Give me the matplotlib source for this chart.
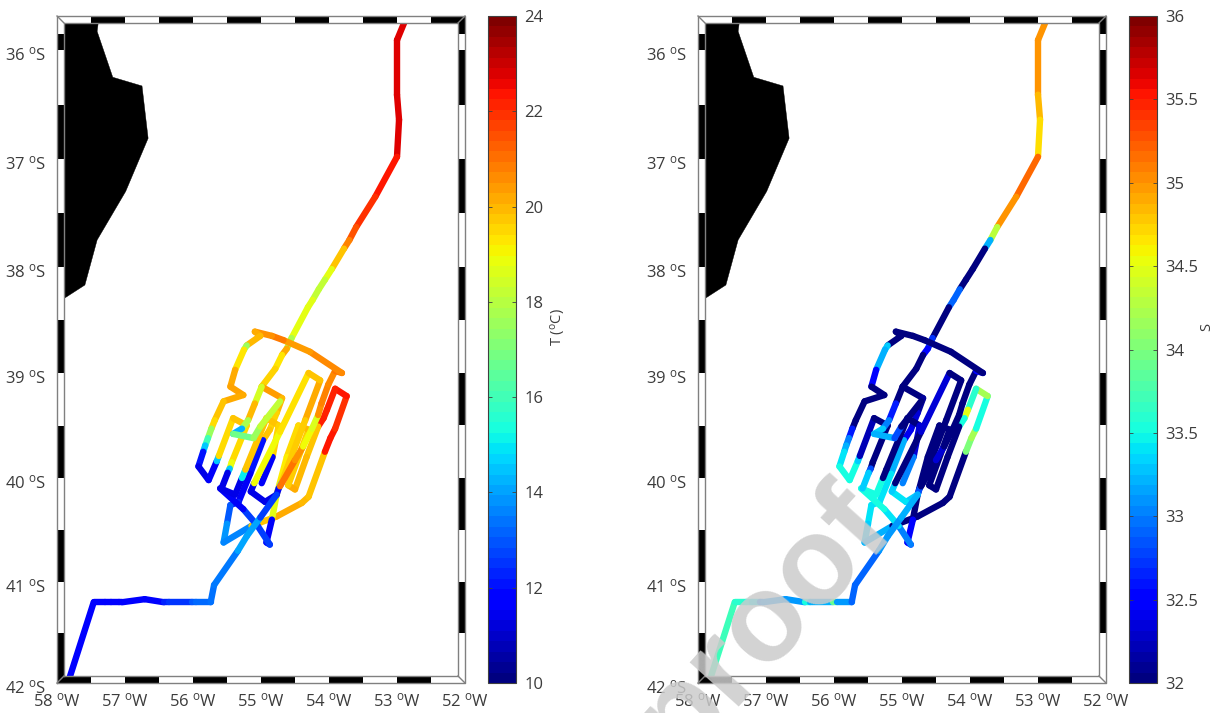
import numpy as np
import matplotlib
matplotlib.use('Agg')
import matplotlib.pyplot as plt
from matplotlib.collections import LineCollection
from matplotlib.patches import Polygon, Rectangle
from matplotlib.cm import ScalarMappable
from matplotlib.colors import Normalize
from matplotlib.transforms import ScaledTranslation

plt.rcParams['font.family'] = ['Open Sans', 'DejaVu Sans']
plt.rcParams['mathtext.fontset'] = 'custom'
plt.rcParams['mathtext.rm'] = 'Open Sans'
plt.rcParams['mathtext.default'] = 'rm'

nan = np.nan
lon_w = [52.85,52.88,53.00,53.00,52.97,53.00,53.32,53.60,53.70,53.78,53.96,54.06,54.15,54.24,54.31,54.55,54.62,54.69,54.79,54.99,54.69,54.77,54.87,54.97,55.16,55.33,55.45,55.50,55.55,
         55.14,54.77,54.40,54.30,54.06,53.98,53.91,53.74,53.91,54.03,54.08,54.16,54.33,54.50,54.60,54.30,54.45,54.62,54.77,54.84,54.92,54.87,55.05,
         55.26,55.60,55.38,55.28,55.23,54.92,54.74,54.83,54.99,nan,
         54.13,54.35,54.70,54.74,54.77,54.94,55.15,55.10,54.72,54.30,54.13,nan,
         54.72,54.50,54.38,54.25,54.16,54.11,54.01,53.91,53.81,54.28,54.67,54.84,55.09,55.01,55.21,55.25,55.38,55.45,55.26,55.55,55.68,55.73,55.78,55.82,55.85,55.92,55.77,55.65,55.62,55.41,55.21,55.43,55.46,55.49,55.58,nan,
         54.99,55.09,55.19,55.28,55.41,55.11,55.01,54.72,nan,
         57.84,57.46,57.30,57.20,57.09,57.04,56.71,56.43,56.35,56.01,55.96,55.74,55.69,55.34,55.21,55.01,54.77]
lat_s = [35.69,35.73,35.91,36.41,36.64,36.98,37.35,37.63,37.75,37.83,38.02,38.12,38.21,38.31,38.38,38.67,38.77,38.83,38.96,39.13,39.24,39.38,39.54,39.64,39.96,40.23,40.26,40.44,40.62,
         40.46,40.37,40.24,40.18,39.75,39.62,39.53,39.22,39.15,39.35,39.43,39.51,39.80,40.11,40.07,39.54,39.50,39.80,40.16,40.40,40.62,40.64,40.46,
         40.30,40.10,40.16,40.00,39.92,39.43,39.50,39.80,40.05,nan,
         39.07,39.45,40.05,40.10,40.16,40.23,40.13,40.05,39.56,39.00,39.07,nan,
         40.08,39.83,39.70,39.53,39.40,39.29,39.11,38.98,39.00,38.80,38.69,38.65,38.61,38.65,38.74,38.78,38.97,39.13,39.21,39.27,39.45,39.53,39.62,39.69,39.75,39.89,40.02,39.84,39.79,39.43,39.50,39.85,39.91,39.95,40.10,nan,
         39.13,39.29,39.45,39.53,39.58,39.62,39.51,39.27,nan,
         42.00,41.20,41.20,41.20,41.20,41.20,41.17,41.20,41.20,41.20,41.20,41.20,41.03,40.70,40.56,40.38,40.16]
temp_c = [22.8,22.8,22.8,22.8,22.8,22.4,22.0,21.5,20.8,19.8,18.8,18.2,18.2,18.7,18.8,17.8,20.2,19.3,19.6,20.4,20.0,19.6,19.8,12.0,11.5,12.2,13.0,13.8,13.6,
          19.8,20.2,20.0,19.8,22.4,22.4,22.0,22.4,22.2,22.2,22.3,19.8,20.0,20.2,19.7,20.0,19.5,19.2,18.8,11.5,12.0,12.6,12.6,
          11.5,11.3,11.3,15.0,19.8,19.8,19.6,11.5,11.5,nan,
          20.2,19.7,15.0,11.8,11.3,11.3,11.3,19.0,19.4,19.8,19.8,nan,
          21.0,20.6,19.0,18.6,20.6,20.8,20.7,21.0,20.7,20.4,20.9,20.6,20.2,20.0,17.5,19.3,20.2,20.3,20.2,19.8,19.5,17.5,16.0,14.5,12.0,11.3,11.5,14.5,19.5,19.8,19.5,18.9,14.5,11.3,11.3,nan,
          18.5,20.0,17.8,14.2,16.8,17.5,18.2,18.2,nan,
          11.6,11.6,11.6,11.6,11.6,11.6,11.8,12.2,12.5,13.0,13.2,13.3,13.4,14.0,14.0,12.6,12.6]
sal_psu = [33.9,35.0,35.0,34.85,34.7,35.2,35.0,34.3,33.2,32.0,32.0,32.0,32.9,32.9,32.0,32.7,32.5,32.0,32.0,32.0,32.1,32.3,32.4,33.2,33.4,33.4,33.4,33.3,33.2,
           32.0,32.0,32.0,32.0,34.0,34.2,33.5,34.2,33.6,34.5,33.5,32.0,32.0,32.0,32.0,32.0,32.0,32.0,32.0,32.5,32.5,33.0,33.4,
           33.5,33.5,33.5,32.0,32.0,32.0,32.3,33.0,33.0,nan,
           32.0,32.0,32.0,32.8,33.3,33.4,33.3,32.0,32.3,32.0,32.0,nan,
           32.0,32.3,32.0,32.0,32.0,32.0,32.0,32.5,32.0,32.0,32.0,32.0,32.0,32.0,33.3,33.2,32.5,32.0,32.0,32.0,32.0,32.6,33.0,33.2,33.4,33.5,33.5,33.3,32.2,32.0,32.0,32.0,32.8,33.3,33.3,nan,
           32.0,32.6,33.0,33.3,33.2,32.8,32.0,32.0,nan,
           33.7,33.6,33.5,33.4,33.0,33.1,33.1,33.5,33.2,33.9,33.1,32.9,32.9,33.1,33.1,33.2,33.2]

land_lon = [58.00,57.38,57.41,57.18,56.75,56.66,56.99,57.41,57.59,57.88,58.00]
land_lat = [35.69,35.69,35.83,36.25,36.33,36.81,37.30,37.75,38.17,38.29,38.34]

lon_ticks = [58,57,56,55,54,53,52]
lat_ticks = [36,37,38,39,40,41,42]
lat_edges = [35.69,35.85,36,36.5,37,37.5,38,38.5,39,39.5,40,40.5,41,41.5,42]
scale_lat = [35.69,36,37,38,39,40,41,42]
scale_pos = [16,50,159,267,373,478,582,683]

W, H = 1223, 713
fig = plt.figure(figsize=(W/100, H/100), dpi=100)
TEXT = '#3c3c3c'
EDGE = '#808080'


def forward(v):
    return np.interp(v, scale_lat, scale_pos)


def inverse(v):
    return np.interp(v, scale_pos, scale_lat)


def panel(x0, values, vmin, vmax, ticks, labels, label, lx):
    ax = fig.add_axes([x0/W, 1-683/H, 408/W, 667/H])
    ax.set_yscale('function', functions=(forward, inverse))
    ax.set_xlim(58, 52)
    ax.set_ylim(42, 35.69)
    ax.add_patch(Polygon(np.column_stack([land_lon, land_lat]), closed=True, fc='k', ec='k', lw=0.3, zorder=1))

    lon = np.array(lon_w); lat = np.array(lat_s); val = np.array(values)
    segs, cols = [], []
    for i in range(len(lon)-1):
        if np.isnan(lon[i]) or np.isnan(lon[i+1]):
            continue
        segs.append([(lon[i], lat[i]), (lon[i+1], lat[i+1])])
        cols.append(val[i])
    lc = LineCollection(segs, array=np.array(cols), cmap='jet', norm=Normalize(vmin, vmax),
                        linewidths=4.6, capstyle='round', joinstyle='round', zorder=3)
    ax.add_collection(lc)

    # fancy frame
    ax.spines[:].set_visible(False)
    bx = 7/408
    by = 7/667
    edges = np.arange(58, 51.9, -0.5)
    for i in range(12):
        a = (58-edges[i])/6; b = (58-edges[i+1])/6
        top = 'white' if i % 2 == 0 else 'black'
        bot = 'black' if i % 2 == 0 else 'white'
        ax.add_patch(Rectangle((a, 1-by), b-a, by, transform=ax.transAxes, fc=top, ec='none', zorder=5, clip_on=False))
        ax.add_patch(Rectangle((a, 0), b-a, by, transform=ax.transAxes, fc=bot, ec='none', zorder=5, clip_on=False))
    for i in range(len(lat_edges)-1):
        y1 = (683-forward(lat_edges[i]))/667
        y2 = (683-forward(lat_edges[i+1]))/667
        lft = 'white' if i % 2 == 0 else 'black'
        rgt = 'black' if i % 2 == 0 else 'white'
        ax.add_patch(Rectangle((0, y2), bx, y1-y2, transform=ax.transAxes, fc=lft, ec='none', zorder=5, clip_on=False))
        ax.add_patch(Rectangle((1-bx, y2), bx, y1-y2, transform=ax.transAxes, fc=rgt, ec='none', zorder=5, clip_on=False))
    kw = dict(transform=ax.transAxes, color=EDGE, lw=1.0, zorder=6, clip_on=False)
    ax.plot([0, 1, 1, 0, 0], [0, 0, 1, 1, 0], **kw)
    ax.plot([bx, 1-bx, 1-bx, bx, bx], [by, by, 1-by, 1-by, by], **kw)
    for cx, ix in ((0, bx), (1, 1-bx)):
        for cy, iy in ((0, by), (1, 1-by)):
            ax.plot([cx, ix], [cy, iy], **kw)

    ax.set_xticks(lon_ticks)
    ax.set_xticklabels(['%d $^{\\mathrm{o}}$W' % t for t in lon_ticks])
    ax.set_yticks(lat_ticks)
    ax.set_yticklabels(['%d $^{\\mathrm{o}}$S' % t for t in lat_ticks])
    ax.minorticks_off()
    ax.tick_params(axis='both', length=0, labelsize=12, labelcolor=TEXT)
    ax.tick_params(axis='x', pad=7)
    ax.tick_params(axis='y', pad=8)
    off = ScaledTranslation(0, -3/100, fig.dpi_scale_trans)
    for t in ax.get_yticklabels():
        t.set_transform(t.get_transform() + off)

    cax = fig.add_axes([(x0+431)/W, 1-683/H, 28/W, 667/H])
    cmap = plt.get_cmap('jet', 64)
    cb = fig.colorbar(ScalarMappable(Normalize(vmin, vmax), cmap), cax=cax)
    cb.set_ticks(ticks)
    cb.set_ticklabels(labels)
    cb.outline.set_edgecolor('#404040')
    cb.outline.set_linewidth(0.8)
    cax.tick_params(axis='y', which='major', direction='in', left=True, right=True, length=3,
                    width=0.6, color='#404040', labelsize=12, labelcolor=TEXT, pad=6)
    cax.minorticks_off()
    fig.text(lx/W, 1-327/H, label, rotation=90, ha='center', va='center', fontsize=10.5, color=TEXT)


t_ticks = [10,12,14,16,18,20,22,24]
t_labels = ['10','12','14','16','18','20','22','24']
s_ticks = [32,32.5,33,33.5,34,34.5,35,35.5,36]
s_labels = ['32','32.5','33','33.5','34','34.5','35','35.5','36']

panel(57, temp_c, 10, 24, t_ticks, t_labels, 'T ($^{\\mathrm{o}}$C)', 559)
panel(698, sal_psu, 32, 36, s_ticks, s_labels, 'S', 1207)

fig.text(680/W, 1-763/H, 'proof', rotation=48, rotation_mode='anchor', ha='left', va='baseline',
         fontsize=90, fontweight='bold', family='Liberation Sans', color='#cbcbcb', alpha=0.85, zorder=20)

fig.savefig('out.png', dpi=100)
